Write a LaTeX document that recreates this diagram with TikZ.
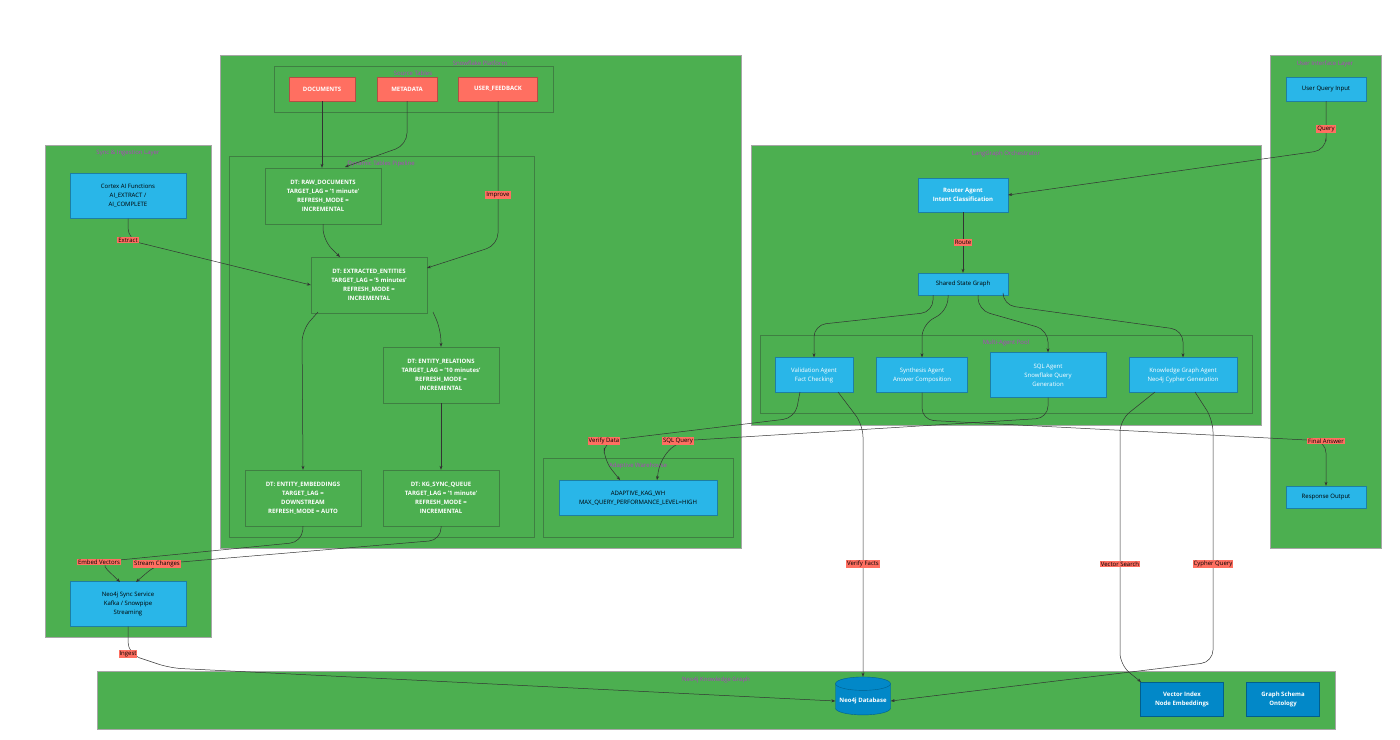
\documentclass[tikz,border=0pt]{standalone}
\usepackage{fontspec}
\setmainfont{Open Sans}
\usetikzlibrary{shapes.geometric,arrows.meta}
\definecolor{grn}{HTML}{4CAF50}
\definecolor{src}{HTML}{FF6F61}
\definecolor{ui}{HTML}{29B6E8}
\definecolor{neo}{HTML}{0288C8}
\definecolor{ttl}{HTML}{B040C0}
\definecolor{subln}{HTML}{3F7F42}
\tikzset{
  grp/.style={draw=gray!70, fill=grn, line width=0.6pt},
  sub/.style={draw=subln, line width=0.6pt},
  ttl/.style={text=ttl, font=\fontsize{6}{7}\selectfont, anchor=north},
  box/.style={draw=#1!70!black, fill=#1, align=center, inner sep=1pt,
    font=\fontsize{6}{9}\selectfont},
  dt/.style={draw=subln, fill=grn, text=white, align=center, inner sep=1pt,
    minimum width=116pt, minimum height=56pt, font=\fontsize{6}{9}\selectfont\bfseries},
  lbl/.style={fill=src, draw=none, sharp corners, inner sep=1pt, text=black,
    font=\fontsize{6}{7}\selectfont},
  edge/.style={draw=black!80, line width=0.5pt, rounded corners=12pt,
    -{Stealth[length=4pt,width=3pt]}}
}
\begin{document}
\begin{tikzpicture}[x=1pt,y=-1pt]
\useasboundingbox (0,0) rectangle (1400,739);

% groups
\draw[grp] (220,55) rectangle (741,548);
\node[ttl] at (480,57) {Snowflake Platform};
\draw[sub] (274,66) rectangle (553,112);
\node[ttl] at (413,67) {Source Tables};
\draw[sub] (229,156) rectangle (534,537);
\node[ttl] at (381,157) {Dynamic Tables Pipeline};
\draw[sub] (543,458) rectangle (733,537);
\node[ttl] at (638,459) {Adaptive Warehouse};

\draw[grp] (45,145) rectangle (211,637);
\node[ttl] at (128,147) {Sync \& Ingestion Layer};

\draw[grp] (751,145) rectangle (1261,425);
\node[ttl] at (1006,147) {LangGraph Orchestrator};
\draw[sub] (760,335) rectangle (1252,413);
\node[ttl] at (1006,336) {Multi-Agent Pool};

\draw[grp] (1270,55) rectangle (1381,548);
\node[ttl] at (1325,57) {User Interface Layer};

\draw[grp] (97,671) rectangle (1335,729);
\node[ttl] at (716,673) {Neo4j Knowledge Graph};

% source tables
\node[box=src, text=white, minimum width=66pt, minimum height=24pt, font=\fontsize{6}{9}\selectfont\bfseries] (docs) at (322,89) {DOCUMENTS};
\node[box=src, text=white, minimum width=60pt, minimum height=24pt, font=\fontsize{6}{9}\selectfont\bfseries] (meta) at (407,89) {METADATA};
\node[box=src, text=white, minimum width=79pt, minimum height=24pt, font=\fontsize{6}{9}\selectfont\bfseries] (feedback) at (498,89) {USER\_FEEDBACK};

% dynamic tables
\node[dt] (raw) at (323,196) {DT: RAW\_DOCUMENTS\\TARGET\_LAG = '1 minute'\\REFRESH\_MODE =\\INCREMENTAL};
\node[dt] (ext) at (369,285) {DT: EXTRACTED\_ENTITIES\\TARGET\_LAG = '5 minutes'\\REFRESH\_MODE =\\INCREMENTAL};
\node[dt] (rel) at (441,375) {DT: ENTITY\_RELATIONS\\TARGET\_LAG = '10 minutes'\\REFRESH\_MODE =\\INCREMENTAL};
\node[dt] (emb) at (303,498) {DT: ENTITY\_EMBEDDINGS\\TARGET\_LAG =\\DOWNSTREAM\\REFRESH\_MODE = AUTO};
\node[dt] (kgq) at (441,498) {DT: KG\_SYNC\_QUEUE\\TARGET\_LAG = '1 minute'\\REFRESH\_MODE =\\INCREMENTAL};

\node[box=ui, minimum width=158pt, minimum height=35pt] (wh) at (638,498) {ADAPTIVE\_KAG\_WH\\MAX\_QUERY\_PERFORMANCE\_LEVEL=HIGH};

% sync layer
\node[box=ui, minimum width=116pt, minimum height=45pt] (cortex) at (128,196) {Cortex AI Functions\\AI\_EXTRACT /\\AI\_COMPLETE};
\node[box=ui, minimum width=116pt, minimum height=45pt] (sync) at (128,604) {Neo4j Sync Service\\Kafka / Snowpipe\\Streaming};

% orchestrator
\node[box=ui, text=white, minimum width=90pt, minimum height=34pt, font=\fontsize{6}{9}\selectfont\bfseries] (router) at (963,195) {Router Agent\\Intent Classification};
\node[box=ui, minimum width=90pt, minimum height=22pt] (state) at (963,284) {Shared State Graph};
\node[box=ui, text=white, minimum width=78pt, minimum height=35pt] (valid) at (814,375) {Validation Agent\\Fact Checking};
\node[box=ui, text=white, minimum width=91pt, minimum height=35pt] (synth) at (922,375) {Synthesis Agent\\Answer Composition};
\node[box=ui, text=white, minimum width=116pt, minimum height=45pt] (sqla) at (1048,375) {SQL Agent\\Snowflake Query\\Generation};
\node[box=ui, text=white, minimum width=108pt, minimum height=35pt] (kga) at (1183,375) {Knowledge Graph Agent\\Neo4j Cypher Generation};

% user interface
\node[box=ui, minimum width=80pt, minimum height=24pt] (uq) at (1326,89) {User Query Input};
\node[box=ui, minimum width=80pt, minimum height=22pt] (resp) at (1326,497) {Response Output};

% knowledge graph
\node[cylinder, shape border rotate=90, aspect=0.25, draw=neo!70!black, fill=neo, text=white,
  minimum width=55pt, minimum height=38pt, font=\fontsize{6}{9}\selectfont\bfseries] (db) at (863,701) {Neo4j Database};
\node[box=neo, text=white, minimum width=83pt, minimum height=34pt, font=\fontsize{6}{9}\selectfont\bfseries] (vec) at (1182,699) {Vector Index\\Node Embeddings};
\node[box=neo, text=white, minimum width=73pt, minimum height=34pt, font=\fontsize{6}{9}\selectfont\bfseries] (schema) at (1283,699) {Graph Schema\\Ontology};

% pipeline edges
\draw[edge] (docs.south) -- (docs.south |- raw.north);
\draw[edge] (meta.south) -- (407,145) -- (345,167);
\draw[edge] (feedback.south) -- (498,195) node[lbl] {Improve} -- (498,245) -- (427,268);
\draw[edge] (raw.south) -- (323,240) -- (340,257);
\draw[edge] (318,312) -- (302,330) -- (emb.north);
\draw[edge] (433,312) -- (441,330) -- (rel.north);
\draw[edge] (rel.south) -- (kgq.north);
\draw[edge] (cortex.south) -- (128,240) node[lbl] {Extract} -- (ext.west);
\draw[edge] (emb.south) -- (302,542) -- (99,562) node[lbl] {Embed Vectors} -- (120,582);
\draw[edge] (kgq.south) -- (441,540) -- (157,564) node[lbl] {Stream Changes} -- (136,582);
\draw[edge] (sync.south) -- (128,654) node[lbl] {Ingest} -- (170,668) -- (db.west);

% orchestrator edges
\draw[edge] (uq.south) -- (1326,129) node[lbl] {Query} -- (1326,150) -- (router.east);
\draw[edge] (router.south) -- node[lbl] {Route} (state.north);
\draw[edge] (933,295) -- (933,312) -- (814,325) -- (valid.north);
\draw[edge] (948,295) -- (948,310) -- (922,325) -- (synth.north);
\draw[edge] (978,295) -- (978,310) -- (1048,330) -- (sqla.north);
\draw[edge] (1003,295) -- (1003,305) -- (1183,330) -- (kga.north);

% cross edges
\draw[edge] (800,392) -- (795,418) -- (604,441) node[lbl] {Verify Data} -- (604,460) -- (620,480);
\draw[edge] (sqla.south) -- (1048,418) -- (678,441) node[lbl] {SQL Query} -- (660,460) -- (657,480);
\draw[edge] (synth.south) -- (922,420) -- (1326,441) node[lbl] {Final Answer} -- (resp.north);
\draw[edge] (838,392) -- (863,425) -- (863,564) node[lbl] {Verify Facts} -- (db.north);
\draw[edge] (1155,392) -- (1120,420) -- (1120,564) node[lbl] {Vector Search} -- (1120,665) -- (1141,682);
\draw[edge] (1195,392) -- (1213,420) -- (1213,564) node[lbl] {Cypher Query} -- (1213,662) -- (db.east);
\end{tikzpicture}
\end{document}
